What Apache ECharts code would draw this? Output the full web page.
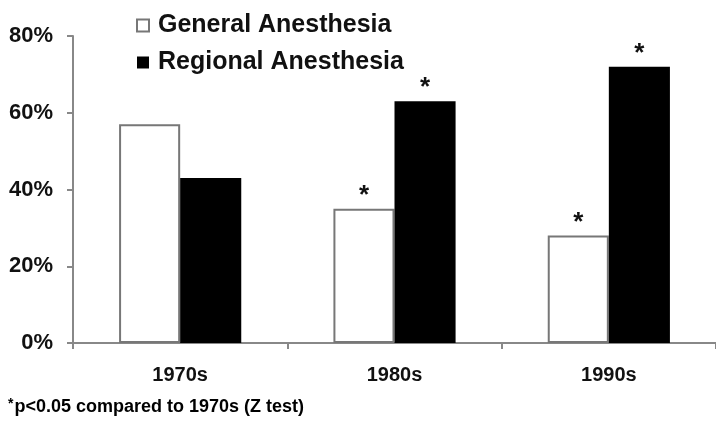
<!DOCTYPE html>
<html>
<head>
<meta charset="utf-8">
<script src="https://cdn.jsdelivr.net/npm/echarts@6/dist/echarts.min.js"></script>
<style>
html,body{margin:0;padding:0;background:#fff;}
#chart{width:716px;height:426px;}
</style>
</head>
<body>
<div id="chart"></div>
<script>
var categories = ['1970s', '1980s', '1990s'];
var generalValues = [57, 35, 28];
var regionalValues = [43, 63, 72];
var generalSignif = [false, true, true];
var regionalSignif = [false, true, true];
var yTicks = [0, 20, 40, 60, 80];
var seriesNames = ['General Anesthesia', 'Regional Anesthesia'];
var footnote = 'p<0.05 compared to 1970s (Z test)';

var FONT = '"Liberation Sans", Arial, sans-serif';

function buildData(values, signif) {
  return values.map(function (v, i) {
    return {
      value: v,
      label: { show: signif[i] }
    };
  });
}

var chart = echarts.init(document.getElementById('chart'), null, { renderer: 'canvas' });
chart.setOption({
  animation: false,
  backgroundColor: '#fff',
  grid: { left: 73, right: -2, top: 36, bottom: 83, containLabel: false },
  legend: {
    orient: 'vertical',
    left: 131,
    top: 8,
    itemWidth: 12,
    itemHeight: 12,
    itemGap: 12,
    icon: 'rect',
    textStyle: { fontFamily: FONT, fontWeight: 'bold', fontSize: 25, color: '#111', padding: [0, 0, 0, 4] },
    data: seriesNames
  },
  xAxis: {
    type: 'category',
    data: categories,
    axisLine: { show: true, lineStyle: { color: '#888', width: 2 } },
    axisTick: { show: true, alignWithLabel: false, length: 6, lineStyle: { color: '#888', width: 2 } },
    axisLabel: { fontFamily: FONT, fontWeight: 'bold', fontSize: 20, color: '#111', margin: 22 }
  },
  yAxis: {
    type: 'value',
    min: yTicks[0],
    max: yTicks[yTicks.length - 1],
    interval: 20,
    axisLine: { show: true, lineStyle: { color: '#888', width: 2 } },
    axisTick: { show: true, length: 6, lineStyle: { color: '#888', width: 2 } },
    splitLine: { show: false },
    axisLabel: { fontFamily: FONT, fontWeight: 'bold', fontSize: 22, color: '#111', margin: 20, formatter: '{value}%' }
  },
  series: [
    {
      name: seriesNames[0],
      type: 'bar',
      barGap: '0%',
      barCategoryGap: '43%',
      data: buildData(generalValues, generalSignif),
      itemStyle: { color: '#fff', borderColor: '#777', borderWidth: 2 },
      label: { position: 'top', distance: 0, formatter: '*', fontFamily: FONT, fontWeight: 'bold', fontSize: 26, color: '#111' }
    },
    {
      name: seriesNames[1],
      type: 'bar',
      barGap: '0%',
      barCategoryGap: '43%',
      data: buildData(regionalValues, regionalSignif),
      itemStyle: { color: '#000', borderColor: '#000', borderWidth: 0 },
      label: { position: 'top', distance: 0, formatter: '*', fontFamily: FONT, fontWeight: 'bold', fontSize: 26, color: '#111' }
    }
  ],
  graphic: [
    {
      type: 'text',
      left: 8,
      top: 397,
      style: {
        text: '{s|*}{t|' + footnote + '}',
        rich: {
          s: { fontFamily: FONT, fontWeight: 'bold', fontSize: 14, color: '#111', verticalAlign: 'top', padding: [0, 1, 6, 0] },
          t: { fontFamily: FONT, fontWeight: 'bold', fontSize: 18, color: '#111' }
        }
      }
    }
  ]
});
</script>
</body>
</html>
